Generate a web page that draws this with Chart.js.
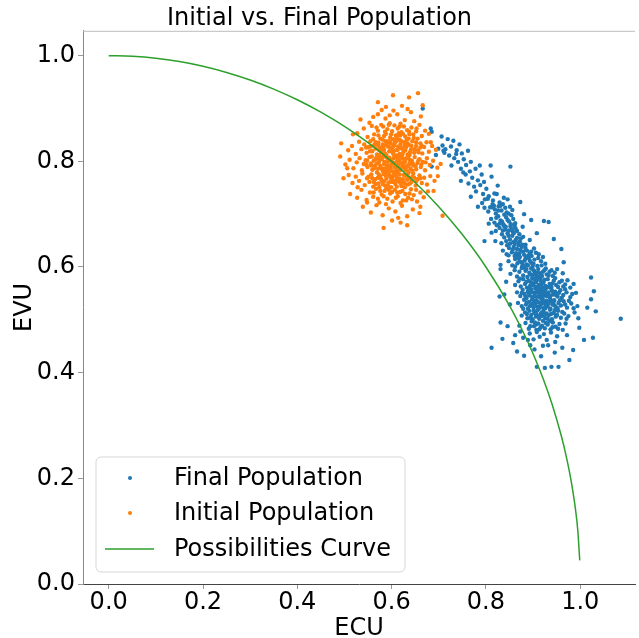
<!DOCTYPE html>
<html>
<head>
<meta charset="utf-8">
<script src="https://cdn.jsdelivr.net/npm/chart.js@4.4.1/dist/chart.umd.min.js"></script>
<style>
  html, body { margin: 0; padding: 0; background: #fff; overflow: hidden; }
  canvas { display: block; }
</style>
</head>
<body>
<canvas id="chart" width="639" height="638"></canvas>
<script>
// tick values shown on both axes
const xTicks = [0.0, 0.2, 0.4, 0.6, 0.8, 1.0];
const yTicks = [0.0, 0.2, 0.4, 0.6, 0.8, 1.0];

// Final Population (ECU, EVU)
const finalPop = [
  [0.666,0.900],[0.683,0.862],[0.685,0.856],[0.699,0.824],[0.710,0.820],[0.685,0.790],[0.694,0.812],
  [0.706,0.847],[0.731,0.839],[0.708,0.830],[0.719,0.842],[0.714,0.823],[0.726,0.828],[0.738,0.821],
  [0.722,0.811],[0.744,0.832],[0.733,0.806],[0.749,0.815],[0.762,0.820],[0.727,0.792],[0.741,0.799],
  [0.753,0.804],[0.747,0.786],[0.758,0.793],[0.768,0.799],[0.747,0.763],[0.757,0.775],[0.766,0.781],
  [0.771,0.769],[0.778,0.786],[0.787,0.792],[0.810,0.792],[0.852,0.790],[0.763,0.758],[0.775,0.752],
  [0.768,0.733],[0.783,0.764],[0.791,0.775],[0.779,0.743],[0.788,0.755],[0.796,0.761],[0.804,0.729],
  [0.783,0.714],[0.794,0.738],[0.801,0.748],[0.812,0.771],[0.825,0.754],[0.818,0.739],[0.809,0.713],
  [0.712,0.816],[0.752,0.779],[0.737,0.814],
  [0.792,0.721],[0.806,0.734],[0.815,0.726],[0.823,0.738],[0.829,0.722],[0.838,0.731],[0.798,0.728],
  [0.846,0.728],[0.873,0.723],[0.817,0.716],
  [0.805,0.705],[0.813,0.713],[0.821,0.701],[0.827,0.715],[0.833,0.707],[0.841,0.712],[0.848,0.701],
  [0.819,0.709],[0.836,0.719],[0.856,0.708],[0.881,0.700],[0.797,0.712],
  [0.811,0.691],[0.818,0.684],[0.826,0.696],[0.831,0.688],[0.837,0.681],[0.843,0.694],[0.849,0.686],
  [0.854,0.698],[0.862,0.683],[0.823,0.679],[0.839,0.699],[0.896,0.689],[0.806,0.682],[0.858,0.691],
  [0.821,0.668],[0.829,0.674],[0.834,0.662],[0.841,0.671],[0.846,0.664],[0.852,0.677],[0.857,0.667],
  [0.863,0.673],[0.871,0.662],[0.838,0.678],[0.849,0.669],[0.878,0.676],[0.812,0.665],
  [0.797,0.649],[0.820,0.649],[0.833,0.645],[0.839,0.656],[0.845,0.641],[0.851,0.652],[0.856,0.659],
  [0.861,0.644],[0.866,0.655],[0.872,0.648],[0.879,0.657],[0.884,0.642],[0.843,0.649],[0.858,0.647],
  [0.869,0.641],[0.893,0.651],[0.944,0.653],[0.923,0.687],[0.933,0.685],[0.908,0.664],
  [0.836,0.631],[0.844,0.624],[0.849,0.636],[0.855,0.628],[0.861,0.621],[0.866,0.634],[0.871,0.626],
  [0.876,0.638],[0.881,0.623],[0.887,0.631],[0.893,0.626],[0.859,0.638],[0.868,0.622],[0.902,0.635],
  [0.912,0.624],[0.960,0.634],[0.848,0.622],[0.879,0.629],
  [0.831,0.604],[0.848,0.611],[0.856,0.603],[0.862,0.615],[0.867,0.607],[0.872,0.619],[0.877,0.601],
  [0.882,0.612],[0.886,0.605],[0.891,0.617],[0.896,0.608],[0.903,0.614],[0.909,0.602],[0.917,0.611],
  [0.926,0.606],[0.965,0.609],[0.871,0.611],[0.887,0.619],[0.899,0.601],[0.862,0.601],
  [0.852,0.587],[0.861,0.594],[0.866,0.582],[0.871,0.591],[0.876,0.598],[0.879,0.584],[0.884,0.593],
  [0.888,0.581],[0.892,0.589],[0.896,0.597],[0.899,0.585],[0.903,0.592],[0.907,0.582],[0.911,0.596],
  [0.915,0.588],[0.919,0.583],[0.924,0.594],[0.929,0.586],[0.935,0.591],[0.942,0.583],[0.951,0.596],
  [0.963,0.588],[1.023,0.580],[0.881,0.599],[0.905,0.587],
  [0.862,0.566],[0.869,0.573],[0.874,0.563],[0.879,0.577],[0.883,0.568],[0.887,0.561],[0.891,0.574],
  [0.894,0.565],[0.898,0.579],[0.901,0.569],[0.905,0.562],[0.908,0.575],[0.912,0.566],[0.915,0.578],
  [0.919,0.561],[0.922,0.571],[0.926,0.564],[0.931,0.577],[0.935,0.568],[0.939,0.562],[0.944,0.574],
  [0.949,0.566],[0.956,0.571],[0.964,0.563],[0.973,0.575],[0.986,0.568],[0.896,0.571],[0.917,0.573],
  [0.928,0.561],[0.903,0.577],
  [0.839,0.548],[0.866,0.552],[0.873,0.545],[0.878,0.557],[0.882,0.549],[0.886,0.541],[0.889,0.554],
  [0.893,0.546],[0.896,0.558],[0.899,0.543],[0.902,0.551],[0.905,0.559],[0.908,0.544],[0.911,0.553],
  [0.914,0.547],[0.917,0.556],[0.920,0.541],[0.923,0.549],[0.926,0.558],[0.929,0.545],[0.932,0.552],
  [0.936,0.541],[0.939,0.557],[0.943,0.548],[0.947,0.553],[0.952,0.544],[0.958,0.556],[0.964,0.547],
  [0.971,0.552],[0.979,0.543],[0.991,0.551],[1.029,0.554],[1.023,0.539],[0.907,0.552],[0.921,0.545],
  [0.868,0.532],[0.876,0.526],[0.881,0.538],[0.885,0.529],[0.889,0.521],[0.892,0.534],[0.895,0.527],
  [0.898,0.539],[0.901,0.523],[0.904,0.531],[0.907,0.537],[0.910,0.525],[0.913,0.533],[0.916,0.528],
  [0.919,0.539],[0.922,0.522],[0.925,0.531],[0.928,0.536],[0.931,0.526],[0.934,0.534],[0.937,0.521],
  [0.941,0.529],[0.945,0.537],[0.949,0.524],[0.954,0.532],[0.959,0.527],[0.965,0.535],[0.972,0.523],
  [0.981,0.531],[0.994,0.526],[0.912,0.521],[0.927,0.527],[0.903,0.536],[0.943,0.533],[0.918,0.531],
  [0.876,0.508],[0.883,0.514],[0.888,0.503],[0.892,0.517],[0.896,0.509],[0.899,0.501],[0.903,0.513],
  [0.906,0.506],[0.909,0.518],[0.913,0.502],[0.916,0.511],[0.919,0.507],[0.922,0.516],[0.926,0.503],
  [0.929,0.512],[0.933,0.508],[0.936,0.519],[0.940,0.501],[0.944,0.513],[0.948,0.506],[0.953,0.517],
  [0.959,0.504],[0.966,0.512],[0.975,0.507],[0.988,0.514],[1.033,0.516],[1.086,0.502],[0.831,0.495],
  [0.871,0.489],[0.884,0.494],[0.891,0.483],[0.897,0.497],[0.902,0.488],[0.907,0.481],[0.911,0.493],
  [0.916,0.486],[0.921,0.498],[0.925,0.484],[0.931,0.491],[0.937,0.482],[0.942,0.495],[0.948,0.487],
  [0.956,0.492],[0.963,0.481],[0.998,0.485],[0.919,0.489],[0.904,0.495],[0.935,0.497],
  [0.862,0.471],[0.879,0.466],[0.893,0.474],[0.901,0.463],[0.908,0.477],[0.914,0.468],[0.923,0.473],
  [0.929,0.462],[0.938,0.476],[0.951,0.469],[0.835,0.464],[1.008,0.462],[1.027,0.466],[0.972,0.471],
  [0.812,0.447],[0.866,0.440],[0.881,0.432],[0.894,0.452],[0.908,0.411],[0.925,0.409],[0.939,0.411],
  [0.954,0.411],[0.977,0.424],[0.985,0.443],[0.903,0.444],[0.917,0.431],[0.932,0.452],[0.946,0.438],
  [0.962,0.447],
  [0.829,0.544],[0.831,0.596],[0.843,0.572],[0.851,0.529],
  // denser arm and core
  [0.814,0.719],[0.826,0.707],[0.831,0.716],[0.844,0.703],[0.851,0.714],[0.822,0.693],[0.834,0.686],
  [0.846,0.689],[0.853,0.681],[0.829,0.682],[0.842,0.676],[0.855,0.672],[0.861,0.678],[0.836,0.669],
  [0.848,0.659],[0.859,0.664],[0.866,0.668],[0.874,0.654],[0.851,0.644],[0.863,0.651],[0.869,0.646],
  [0.877,0.642],[0.857,0.633],[0.864,0.626],[0.873,0.632],[0.884,0.636],[0.889,0.621],[0.896,0.629],
  [0.869,0.617],[0.876,0.609],[0.884,0.616],[0.893,0.612],[0.901,0.606],[0.911,0.617],[0.878,0.604],
  [0.889,0.603],[0.897,0.621],[0.906,0.627],[0.918,0.603],[0.921,0.619],
  [0.886,0.596],[0.894,0.586],[0.901,0.594],[0.909,0.589],[0.913,0.581],[0.921,0.591],[0.927,0.597],
  [0.933,0.584],[0.939,0.594],[0.946,0.589],
  [0.872,0.578],[0.886,0.572],[0.892,0.561],[0.899,0.566],[0.906,0.571],[0.911,0.561],[0.918,0.567],
  [0.924,0.576],[0.933,0.562],[0.941,0.569],[0.947,0.579],[0.953,0.562],[0.961,0.574],[0.968,0.567],
  [0.979,0.561],
  [0.876,0.551],[0.884,0.544],[0.891,0.549],[0.897,0.553],[0.903,0.545],[0.909,0.557],[0.915,0.542],
  [0.918,0.551],[0.924,0.553],[0.931,0.548],[0.937,0.546],[0.941,0.554],[0.949,0.547],[0.955,0.551],
  [0.961,0.542],[0.968,0.558],[0.983,0.549],
  [0.879,0.521],[0.887,0.533],[0.893,0.526],[0.899,0.531],[0.905,0.527],[0.909,0.534],[0.914,0.524],
  [0.921,0.535],[0.926,0.522],[0.932,0.531],[0.939,0.536],[0.946,0.527],[0.952,0.522],[0.957,0.537],
  [0.968,0.529],[0.976,0.536],[0.986,0.522],
  [0.887,0.511],[0.894,0.504],[0.901,0.517],[0.907,0.511],[0.912,0.507],[0.918,0.514],[0.924,0.509],
  [0.931,0.502],[0.938,0.511],[0.946,0.518],[0.951,0.509],[0.962,0.515],[0.971,0.502],
  [0.894,0.488],[0.906,0.491],[0.913,0.482],[0.927,0.494],[0.941,0.486],[0.953,0.483],[0.969,0.493],
  [0.846,0.488],[0.858,0.456],[0.873,0.478],[0.889,0.462],[0.921,0.451],[0.947,0.458],[0.996,0.503],
  [1.015,0.523]
];

// Initial Population (ECU, EVU)
const initialPop = [
  [0.603,0.925],[0.656,0.929],[0.637,0.921],[0.571,0.912],[0.622,0.905],[0.588,0.903],
  [0.561,0.884],[0.579,0.897],[0.596,0.872],[0.612,0.889],[0.628,0.878],[0.641,0.893],[0.587,0.881],
  [0.604,0.896],[0.553,0.873],[0.619,0.871],[0.648,0.876],[0.571,0.889],[0.634,0.899],[0.596,0.887],
  [0.662,0.885],
  [0.527,0.853],[0.541,0.862],[0.549,0.846],[0.558,0.867],[0.563,0.851],[0.571,0.858],[0.576,0.843],
  [0.582,0.866],[0.588,0.852],[0.591,0.861],[0.597,0.845],[0.601,0.857],[0.606,0.868],[0.609,0.849],
  [0.613,0.862],[0.617,0.841],[0.621,0.855],[0.626,0.866],[0.629,0.847],[0.633,0.859],[0.638,0.851],
  [0.642,0.864],[0.647,0.844],[0.652,0.857],[0.659,0.869],[0.664,0.848],[0.671,0.858],[0.584,0.848],
  [0.603,0.842],[0.594,0.869],[0.615,0.853],[0.568,0.864],[0.636,0.843],[0.653,0.862],[0.679,0.852],
  [0.493,0.834],[0.508,0.821],[0.516,0.829],[0.524,0.814],[0.531,0.837],[0.536,0.823],[0.542,0.832],
  [0.547,0.816],[0.551,0.827],[0.555,0.838],[0.559,0.819],[0.563,0.831],[0.566,0.824],[0.569,0.813],
  [0.572,0.835],[0.575,0.826],[0.578,0.817],[0.581,0.832],[0.584,0.822],[0.587,0.838],[0.589,0.812],
  [0.592,0.828],[0.595,0.819],[0.598,0.834],[0.601,0.825],[0.603,0.815],[0.606,0.831],[0.609,0.821],
  [0.611,0.839],[0.614,0.828],[0.617,0.814],[0.619,0.833],[0.622,0.824],[0.625,0.818],[0.628,0.836],
  [0.631,0.827],[0.634,0.813],[0.637,0.831],[0.641,0.822],[0.644,0.838],[0.648,0.816],[0.652,0.829],
  [0.656,0.821],[0.661,0.834],[0.665,0.815],[0.669,0.827],[0.674,0.836],[0.679,0.818],[0.686,0.829],
  [0.694,0.822],[0.574,0.811],[0.597,0.837],[0.612,0.811],[0.583,0.829],[0.627,0.829],[0.556,0.828],
  [0.604,0.829],[0.639,0.817],[0.546,0.826],[0.661,0.826],
  [0.491,0.809],[0.502,0.794],[0.511,0.803],[0.519,0.787],[0.526,0.798],[0.532,0.806],[0.537,0.783],
  [0.541,0.795],[0.545,0.802],[0.549,0.789],[0.553,0.808],[0.556,0.796],[0.559,0.784],[0.562,0.801],
  [0.565,0.792],[0.568,0.807],[0.571,0.786],[0.573,0.798],[0.576,0.791],[0.579,0.804],[0.581,0.782],
  [0.584,0.795],[0.587,0.809],[0.589,0.788],[0.592,0.799],[0.594,0.785],[0.597,0.803],[0.599,0.793],
  [0.602,0.781],[0.604,0.806],[0.607,0.797],[0.609,0.788],[0.612,0.802],[0.614,0.791],[0.617,0.808],
  [0.619,0.784],[0.622,0.796],[0.624,0.805],[0.627,0.789],[0.629,0.799],[0.632,0.783],[0.635,0.807],
  [0.637,0.794],[0.640,0.786],[0.643,0.801],[0.646,0.792],[0.649,0.808],[0.652,0.785],[0.655,0.797],
  [0.659,0.804],[0.662,0.789],[0.666,0.799],[0.671,0.783],[0.675,0.806],[0.681,0.793],[0.688,0.801],
  [0.697,0.788],[0.704,0.795],[0.583,0.786],[0.596,0.791],[0.608,0.781],[0.621,0.809],[0.573,0.809],
  [0.639,0.797],[0.557,0.792],[0.615,0.797],[0.601,0.799],[0.626,0.792],[0.591,0.806],[0.644,0.782],
  [0.498,0.768],[0.509,0.774],[0.517,0.759],[0.524,0.771],[0.531,0.763],[0.538,0.777],[0.543,0.755],
  [0.548,0.768],[0.553,0.761],[0.557,0.775],[0.561,0.752],[0.565,0.766],[0.569,0.779],[0.572,0.758],
  [0.576,0.771],[0.579,0.763],[0.583,0.776],[0.586,0.754],[0.589,0.767],[0.593,0.759],[0.596,0.773],
  [0.599,0.751],[0.602,0.765],[0.605,0.778],[0.608,0.757],[0.611,0.769],[0.614,0.762],[0.617,0.775],
  [0.621,0.753],[0.624,0.766],[0.627,0.759],[0.631,0.772],[0.634,0.756],[0.638,0.768],[0.642,0.761],
  [0.646,0.777],[0.651,0.754],[0.655,0.766],[0.659,0.773],[0.664,0.759],[0.669,0.769],[0.675,0.756],
  [0.682,0.772],[0.691,0.763],[0.581,0.757],[0.594,0.779],[0.609,0.774],[0.619,0.758],[0.571,0.769],
  [0.636,0.779],[0.562,0.761],[0.603,0.761],[0.628,0.751],[0.588,0.772],[0.648,0.769],
  [0.512,0.738],[0.527,0.731],[0.536,0.746],[0.547,0.727],[0.554,0.741],[0.561,0.733],[0.567,0.748],
  [0.574,0.722],[0.579,0.737],[0.585,0.744],[0.591,0.729],[0.597,0.739],[0.602,0.724],[0.607,0.746],
  [0.613,0.734],[0.618,0.742],[0.624,0.726],[0.629,0.738],[0.635,0.731],[0.641,0.747],[0.647,0.736],
  [0.654,0.724],[0.661,0.741],[0.668,0.732],[0.677,0.743],[0.589,0.749],[0.571,0.729],[0.619,0.721],
  [0.601,0.742],[0.643,0.728],
  [0.539,0.714],[0.556,0.703],[0.568,0.717],[0.581,0.698],[0.594,0.711],[0.608,0.705],[0.622,0.716],
  [0.633,0.696],[0.645,0.709],[0.659,0.702],[0.588,0.719],[0.614,0.693],
  [0.583,0.674],[0.619,0.684],[0.601,0.688],[0.633,0.679],
  // denser core
  [0.572,0.849],[0.586,0.856],[0.599,0.851],[0.611,0.846],[0.624,0.852],[0.637,0.856],[0.581,0.841],
  [0.593,0.838],[0.607,0.836],[0.618,0.849],[0.632,0.841],[0.646,0.851],[0.561,0.842],[0.655,0.843],
  [0.578,0.869],[0.617,0.866],
  [0.554,0.819],[0.566,0.836],[0.573,0.822],[0.579,0.824],[0.586,0.815],[0.591,0.835],[0.597,0.826],
  [0.602,0.818],[0.608,0.838],[0.613,0.822],[0.618,0.827],[0.623,0.813],[0.629,0.821],[0.634,0.834],
  [0.642,0.829],[0.649,0.823],[0.657,0.817],[0.664,0.829],[0.588,0.831],[0.606,0.811],[0.621,0.838],
  [0.638,0.812],[0.571,0.831],[0.652,0.836],
  [0.548,0.801],[0.558,0.809],[0.563,0.787],[0.569,0.796],[0.574,0.804],[0.578,0.787],[0.582,0.809],
  [0.585,0.799],[0.591,0.792],[0.595,0.807],[0.598,0.786],[0.603,0.797],[0.606,0.789],[0.611,0.808],
  [0.616,0.801],[0.621,0.789],[0.625,0.798],[0.631,0.806],[0.634,0.791],[0.638,0.803],[0.645,0.796],
  [0.651,0.791],[0.657,0.802],[0.663,0.794],[0.672,0.798],[0.588,0.781],[0.612,0.783],[0.629,0.784],
  [0.566,0.804],[0.547,0.793],
  [0.551,0.771],[0.559,0.768],[0.566,0.757],[0.573,0.775],[0.578,0.766],[0.584,0.762],[0.589,0.778],
  [0.592,0.753],[0.598,0.769],[0.603,0.772],[0.607,0.763],[0.613,0.778],[0.617,0.767],[0.622,0.761],
  [0.626,0.774],[0.633,0.765],[0.639,0.758],[0.644,0.771],[0.652,0.762],[0.661,0.768],[0.574,0.751],
  [0.611,0.752],[0.634,0.775],[0.597,0.761],
  [0.562,0.741],[0.583,0.734],[0.594,0.746],[0.609,0.731],[0.623,0.744],[0.638,0.739],[0.652,0.746],
  [0.576,0.744],[0.612,0.741],[0.631,0.726],
  [0.518,0.851],[0.534,0.879],[0.666,0.906],[0.683,0.836],[0.698,0.772],[0.689,0.744],[0.548,0.722],
  [0.661,0.714],[0.506,0.787],[0.528,0.751],[0.708,0.697]
];

// Possibilities Curve, read along the drawn arc
const curveX = [0, 0.05, 0.1, 0.15, 0.2, 0.25, 0.3, 0.35, 0.4, 0.45, 0.5, 0.55, 0.6, 0.65, 0.7,
                0.75, 0.8, 0.85, 0.88, 0.9, 0.92, 0.94, 0.96, 0.97, 0.98, 0.99, 0.995, 0.999];
const curveY = [1.0, 0.9987, 0.995, 0.9887, 0.9798, 0.9682, 0.9539, 0.9367, 0.9165, 0.893, 0.866,
                0.8352, 0.8, 0.7599, 0.7141, 0.6614, 0.6, 0.5268, 0.475, 0.4359, 0.3919, 0.3412,
                0.28, 0.2431, 0.199, 0.1411, 0.0999, 0.0447];

const BLUE = '#1f77b4', ORANGE = '#ff7f0e', GREEN = '#2ca02c';
const FONT = 'DejaVu Sans';

const toXY = arr => arr.map(p => ({ x: p[0], y: p[1] }));

// legend box drawn inside the plot, like matplotlib's
const legendPlugin = {
  id: 'mplLegend',
  afterDatasetsDraw(chart) {
    const c = chart.ctx;
    c.save();
    const bx = 96, by = 457, bw = 309, bh = 115, r = 5;
    c.beginPath();
    c.moveTo(bx + r, by);
    c.arcTo(bx + bw, by, bx + bw, by + bh, r);
    c.arcTo(bx + bw, by + bh, bx, by + bh, r);
    c.arcTo(bx, by + bh, bx, by, r);
    c.arcTo(bx, by, bx + bw, by, r);
    c.closePath();
    c.fillStyle = 'rgba(255,255,255,0.8)';
    c.fill();
    c.strokeStyle = '#d6d6d6';
    c.lineWidth = 1;
    c.stroke();

    const items = [
      { label: 'Final Population', color: BLUE, type: 'dot', y: 478 },
      { label: 'Initial Population', color: ORANGE, type: 'dot', y: 513 },
      { label: 'Possibilities Curve', color: GREEN, type: 'line', y: 549 },
    ];
    c.font = '24px ' + FONT;
    c.textBaseline = 'middle';
    for (const it of items) {
      if (it.type === 'dot') {
        c.fillStyle = it.color;
        c.beginPath(); c.arc(130, it.y, 2, 0, Math.PI * 2); c.fill();
      } else {
        c.strokeStyle = it.color;
        c.lineWidth = 1.5;
        c.beginPath(); c.moveTo(105, it.y); c.lineTo(154, it.y); c.stroke();
      }
      c.fillStyle = '#000';
      c.fillText(it.label, 174, it.y + 1);
    }
    c.restore();
  }
};

// top spine (chart.js only draws left/bottom borders)
const topSpine = {
  id: 'topSpine',
  beforeDatasetsDraw(chart) {
    const { ctx: c, chartArea } = chart;
    c.save();
    c.strokeStyle = '#bdbdbd';
    c.lineWidth = 1;
    c.beginPath();
    c.moveTo(chartArea.left, chartArea.top + 0.5);
    c.lineTo(chartArea.right, chartArea.top + 0.5);
    c.stroke();
    c.restore();
  }
};

new Chart(document.getElementById('chart'), {
  type: 'scatter',
  data: {
    datasets: [
      {
        type: 'line',
        label: 'Possibilities Curve',
        data: curveX.map((x, i) => ({ x, y: curveY[i] })),
        borderColor: GREEN,
        borderWidth: 1.5,
        pointRadius: 0,
        cubicInterpolationMode: 'monotone',
        fill: false,
        order: 0,
      },
      {
        label: 'Initial Population',
        data: toXY(initialPop),
        backgroundColor: ORANGE,
        borderWidth: 0,
        pointRadius: 2.2,
        order: 1,
      },
      {
        label: 'Final Population',
        data: toXY(finalPop),
        backgroundColor: BLUE,
        borderWidth: 0,
        pointRadius: 2.2,
        order: 2,
      },
    ]
  },
  options: {
    responsive: false,
    devicePixelRatio: 1,
    animation: false,
    layout: { padding: { left: 0, right: 0, top: 0, bottom: 0 } },
    plugins: {
      legend: { display: false },
      tooltip: { enabled: false },
      title: {
        display: true,
        text: 'Initial vs. Final Population',
        color: '#000',
        font: { family: FONT, size: 24, weight: 'normal' },
        padding: { top: 4, bottom: -2 },
      },
    },
    scales: {
      x: {
        type: 'linear',
        min: -0.0545,
        max: 1.1162,
        afterBuildTicks: axis => { axis.ticks = xTicks.map(v => ({ value: v })); },
        afterFit: axis => { axis.height = 54; },
        ticks: {
          color: '#000',
          font: { family: FONT, size: 24 },
          padding: -1,
          maxRotation: 0,
          callback: v => v.toFixed(1),
        },
        grid: { drawOnChartArea: false, drawTicks: true, tickLength: 5, color: '#999' },
        border: { display: true, color: '#444', width: 1 },
        title: {
          display: true,
          text: 'ECU',
          color: '#000',
          font: { family: FONT, size: 24 },
          padding: { top: 0, bottom: -5 },
        },
      },
      y: {
        type: 'linear',
        min: 0,
        max: 1.047,
        afterBuildTicks: axis => { axis.ticks = yTicks.map(v => ({ value: v })); },
        afterFit: axis => { axis.width = 83; },
        ticks: {
          color: '#000',
          font: { family: FONT, size: 24 },
          padding: 3,
          callback: v => v.toFixed(1),
        },
        grid: { drawOnChartArea: false, drawTicks: true, tickLength: 5, color: '#999' },
        border: { display: true, color: '#888', width: 1 },
        title: {
          display: true,
          text: 'EVU',
          color: '#000',
          font: { family: FONT, size: 24 },
          padding: { top: 10, bottom: 0 },
        },
      },
    },
  },
  plugins: [topSpine, legendPlugin],
});
</script>
</body>
</html>
